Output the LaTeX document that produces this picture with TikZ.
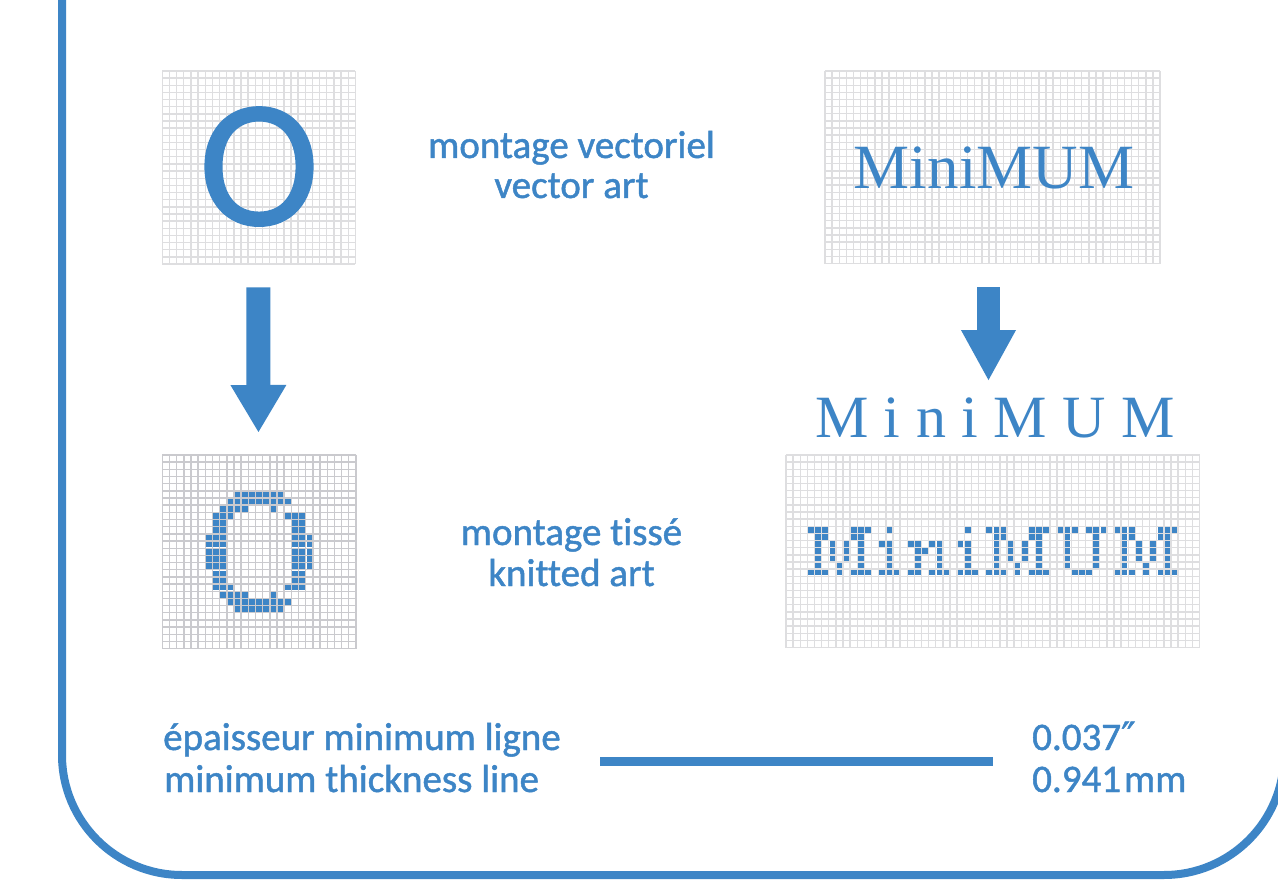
\documentclass[tikz,border=0pt]{standalone}
\usepackage{fontspec}
\setmainfont{Carlito}[Ligatures=NoCommon, FakeBold=1.2]
\newfontfamily\bigofont{Carlito}[FakeBold=0.8]
\newfontfamily\serifx{Liberation Serif}
\newfontfamily\djv{DejaVu Sans}[FakeBold=1.2]
\usetikzlibrary{arrows.meta}
\definecolor{bl}{RGB}{61,133,198}
\definecolor{glight}{RGB}{222,222,224}
\definecolor{gdark}{RGB}{202,202,206}
% grid: name, x0, y0, ncols, nrows, cell, line style
\newcommand\mkgrid[7]{%
  \node[inner sep=0pt, minimum width={#4*#6}, minimum height={#5*#6}, anchor=north west] (#1) at (#2,#3) {};
  \foreach \i in {0,...,#4} \draw[#7] ({#2+\i*#6},#3) -- ++(0,{#5*#6});
  \foreach \j in {0,...,#5} \draw[#7] (#2,{#3+\j*#6}) -- ++({#4*#6},0);
}
% knitted cells: x0, y0, cell, column offset, list of col/row
\newcommand\pxcells[5]{%
  \foreach \c/\r in #5 \fill[knit] ({#1+(\c+#4)*#3+0.8},{#2+\r*#3+0.8}) rectangle ++({#3-1.6},{#3-1.6});}
\newcommand\knitrow[5]{%
  \foreach \c in {#5} \fill[knit] ({#1+\c*#3+0.8},{#2+#4*#3+0.8}) rectangle ++({#3-1.6},{#3-1.6});}
\def\Mshape{0/10,1/10,2/10,6/10,7/10,8/10,1/11,2/11,6/11,7/11,1/12,3/12,5/12,7/12,1/13,3/13,5/13,7/13,1/14,3/14,5/14,7/14,1/15,4/15,7/15,0/16,1/16,2/16,4/16,6/16,7/16,8/16}
\def\ishape{1/10,0/12,1/12,1/13,1/14,1/15,0/16,1/16,2/16}
\def\nshape{0/12,1/12,3/12,4/12,1/13,2/13,4/13,1/14,4/14,1/15,4/15,0/16,1/16,3/16,4/16,5/16}
\def\Ushape{0/10,1/10,2/10,4/10,5/10,6/10,1/11,5/11,1/12,5/12,1/13,5/13,1/14,5/14,1/15,5/15,2/16,3/16,4/16}
\begin{document}
\begin{tikzpicture}[x=1pt,y=-1pt,
  lbl/.style={text=bl, font=\fontsize{39}{42}\selectfont, inner sep=0pt, anchor=base},
  gl/.style={draw=glight, line width=1.4pt},
  gd/.style={draw=gdark, line width=1.4pt},
  knit/.style={fill=bl},
  bigarrow/.style={draw=bl, line width=#1},
  border/.style={draw=bl, line width=8pt, rounded corners=120pt}]
\useasboundingbox (0,0) rectangle (1278,882);
\clip (0,0) rectangle (1278,882);
\fill[white] (0,0) rectangle (1278,882);

% border
\draw[border] (62,-20) -- (62,875) -- (1284,875) -- (1284,-20);

% grids
\mkgrid{vecO}{162.3}{71}{27}{27}{7.15}{gl}
\mkgrid{vecM}{825}{71}{47}{27}{7.13}{gl}
\mkgrid{knitO}{162.3}{455}{27}{27}{7.17}{gd}
\mkgrid{knitM}{786}{455}{58}{27}{7.13}{gl}

% vector O
\node[text=bl, inner sep=0pt, anchor=base, font=\bigofont\fontsize{182}{182}\selectfont] (bigO) at (259,225) {O};
% vector MiniMUM
\node[text=bl, inner sep=0pt, anchor=base, font=\serifx\fontsize{63}{63}\selectfont] (mm1) at (994,188.5) {MiniMUM};
% spaced MiniMUM
\node[text=bl, inner sep=0pt, anchor=base, font=\serifx\fontsize{60}{60}\selectfont] (mm2) at (995,438)
  {M\hspace{15.5pt}i\hspace{15.5pt}n\hspace{15.5pt}i\hspace{15.5pt}M\hspace{15.5pt}U\hspace{15.5pt}M};

% knitted O
\knitrow{162.3}{455}{7.17}{5}{10,...,16}
\knitrow{162.3}{455}{7.17}{6}{9,...,17}
\knitrow{162.3}{455}{7.17}{7}{8,...,11,15,...,18}
\knitrow{162.3}{455}{7.17}{8}{7,8,9,17,18,19}
\knitrow{162.3}{455}{7.17}{9}{7,8,18,19}
\knitrow{162.3}{455}{7.17}{10}{7,8,18,19}
\foreach \rr in {11,...,15} {\knitrow{162.3}{455}{7.17}{\rr}{6,7,8,18,19,20}}
\knitrow{162.3}{455}{7.17}{16}{7,8,18,19}
\knitrow{162.3}{455}{7.17}{17}{7,8,18,19}
\knitrow{162.3}{455}{7.17}{18}{7,8,9,17,18,19}
\knitrow{162.3}{455}{7.17}{19}{8,...,11,15,...,18}
\knitrow{162.3}{455}{7.17}{20}{9,...,17}
\knitrow{162.3}{455}{7.17}{21}{10,...,16}

% knitted MiniMUM
\pxcells{786}{455}{7.13}{3}{\Mshape}
\pxcells{786}{455}{7.13}{13}{\ishape}
\pxcells{786}{455}{7.13}{17}{\nshape}
\pxcells{786}{455}{7.13}{24}{\ishape}
\pxcells{786}{455}{7.13}{28}{\Mshape}
\pxcells{786}{455}{7.13}{38}{\Ushape}
\pxcells{786}{455}{7.13}{46}{\Mshape}

% arrows
\draw[bigarrow=24pt, -{Triangle[length=47pt,width=56pt,line width=0pt]}, shorten <=23pt, shorten >=23pt]
  ([xshift=-0.8pt]vecO.south) -- ([xshift=-0.8pt]knitO.north);
\coordinate (ra) at (988.5,0);
\draw[bigarrow=23pt, -{Triangle[length=50pt,width=55pt,line width=0pt]}, shorten <=23.5pt, shorten >=18pt]
  (vecM.south -| ra) -- (mm2.north -| ra);

% labels
\node[lbl] (t1a) at (571.5,158) {montage vectoriel};
\node[lbl] (t1b) at (571.5,198) {vector art};
\node[lbl] (t2a) at (571.5,545) {montage tissé};
\node[lbl] (t2b) at (571.5,586) {knitted art};
\node[lbl, anchor=base west] (t3a) at (163,750) {épaisseur minimum ligne};
\node[lbl, anchor=base west] (t3b) at (164,792) {minimum thickness line};
\node[lbl, anchor=base west] (t4a) at (1032,750) {0.037{\djv ″}};
\node[lbl, anchor=base west] (t4b) at (1032,792) {0.941\hspace{3pt}mm};

% minimum thickness line
\coordinate (la) at (600,761);
\coordinate (lb) at (993,761);
\draw[draw=bl, line width=9pt] (la) -- (lb);
\end{tikzpicture}
\end{document}
